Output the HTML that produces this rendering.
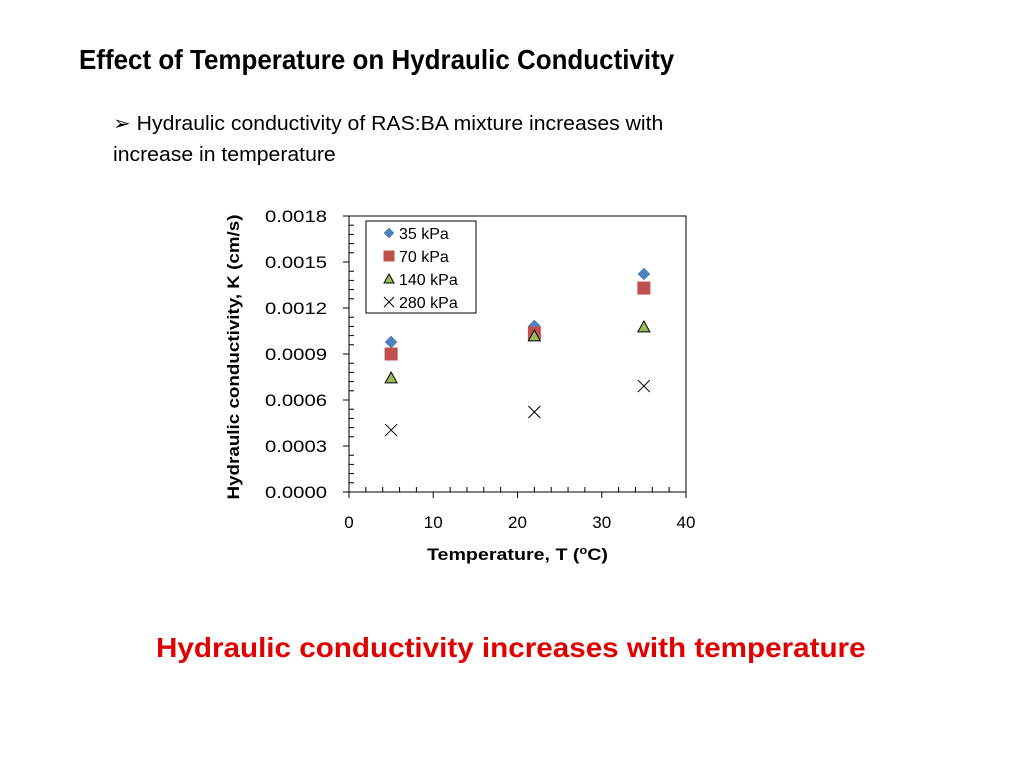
<!DOCTYPE html>
<html><head><meta charset="utf-8"><style>
body{margin:0;background:#fff;font-family:"Liberation Sans",sans-serif;}
#wrap{position:relative;width:1024px;height:768px;overflow:hidden;}
.t{position:absolute;white-space:nowrap;}
</style></head><body><div id="wrap">
<div class="t" style="left:79px;top:44px;font-size:28px;font-weight:bold;transform:scaleX(0.927);transform-origin:left;">Effect of Temperature on Hydraulic Conductivity</div>
<div class="t" style="left:113px;top:109px;font-size:20px;line-height:31px;transform:scaleX(1.06);transform-origin:left;">➢ Hydraulic conductivity of RAS:BA mixture increases with<br>increase in temperature</div>
<div class="t" style="left:156px;top:632px;font-size:28px;font-weight:bold;color:#e00000;transform:scaleX(1.058);transform-origin:left;">Hydraulic conductivity increases with temperature</div>
<svg id="chart" width="1024" height="768" style="position:absolute;left:0;top:0" font-family="Liberation Sans, sans-serif"></svg>
</div>
<script>
const temps=[5,22,35];
const k35=[0.000978,0.001083,0.001422];
const k70=[0.0009,0.001037,0.00133];
const k140=[0.000743,0.001017,0.001076];
const k280=[0.000404,0.000522,0.000691];
const yTicks=["0.0000","0.0003","0.0006","0.0009","0.0012","0.0015","0.0018"];
const xTicks=["0","10","20","30","40"];
const NS="http://www.w3.org/2000/svg";
const svg=document.getElementById('chart');
const X0=349,X1=686,Y0=492,Y1=216;
const xs=v=>X0+(v/40)*(X1-X0);
const ys=v=>Y0-(v/0.0018)*(Y0-Y1);
function mk(tag,a,txt){const e=document.createElementNS(NS,tag);for(const k in a)e.setAttribute(k,a[k]);if(txt!==undefined)e.textContent=txt;svg.appendChild(e);return e;}
let e;
e=mk('rect',{x:X0,y:Y1,width:X1-X0,height:Y0-Y1,fill:'none',stroke:'#000','stroke-width':1});


for(let i=0;i<=30;i++){const y=Y0-i*(Y0-Y1)/30;
 if(i%5==0){mk('line',{x1:X0-6,x2:X0,y1:y,y2:y,stroke:'#000'});
  e=mk('text',{x:265,y:y+6,'font-size':17,textLength:62,lengthAdjust:'spacingAndGlyphs'},yTicks[i/5]);
  
  }
 else mk('line',{x1:X0,x2:X0+5,y1:y,y2:y,stroke:'#000'});}
for(let i=0;i<=20;i++){const x=X0+i*(X1-X0)/20;
 if(i%5==0){mk('line',{x1:x,x2:x,y1:Y0,y2:Y0+6,stroke:'#000'});
  e=mk('text',{x:x,y:528,'font-size':17,'text-anchor':'middle'},xTicks[i/5]);
  
  }
 else mk('line',{x1:x,x2:x,y1:Y0,y2:Y0-5,stroke:'#000'});}
e=mk('text',{x:427,y:560,'font-size':17,'font-weight':'bold',textLength:181,lengthAdjust:'spacingAndGlyphs'});
e.innerHTML='Temperature, T (<tspan font-size="11" dy="-6">o</tspan><tspan dy="6">C)</tspan>';


e=mk('text',{x:0,y:0,'font-size':17,'font-weight':'bold','text-anchor':'middle',textLength:285,lengthAdjust:'spacingAndGlyphs',transform:'translate(239,357) rotate(-90)'},'Hydraulic conductivity, K (cm/s)');


function diamond(x,y,s){return mk('polygon',{points:`${x},${y-s} ${x+s},${y} ${x},${y+s} ${x-s},${y}`,fill:'#4f81bd',stroke:'#3d6ba3','stroke-width':0.5});}
function square(x,y,s){return mk('rect',{x:x-s,y:y-s,width:2*s,height:2*s,fill:'#c0504d'});}
function tri(x,y,s){return mk('polygon',{points:`${x},${y-s} ${x+s},${y+s*0.8} ${x-s},${y+s*0.8}`,fill:'#9bbb59',stroke:'#000','stroke-width':1});}
function cross(x,y,s){const g=document.createElementNS(NS,'path');g.setAttribute('d',`M${x-s},${y-s}L${x+s},${y+s}M${x-s},${y+s}L${x+s},${y-s}`);g.setAttribute('stroke','#000');g.setAttribute('fill','none');svg.appendChild(g);return g;}
temps.forEach((t,i)=>{
 e=diamond(xs(t),ys(k35[i]),6);
 e=square(xs(t),ys(k70[i]),6.5);
 e=tri(xs(t),ys(k140[i]),6);
 e=cross(xs(t),ys(k280[i]),6);
});
e=mk('rect',{x:366,y:221,width:110,height:92,fill:'#fff',stroke:'#000'});


const labs=['35 kPa','70 kPa','140 kPa','280 kPa'];
const fns=[(x,y)=>diamond(x,y,5),(x,y)=>square(x,y,5.5),(x,y)=>tri(x,y,5),(x,y)=>cross(x,y,5)];
labs.forEach((l,i)=>{const y=233+i*23;fns[i](389,y);
 e=mk('text',{x:399,y:y+6,'font-size':16},l);
 
 });
</script></body></html>
